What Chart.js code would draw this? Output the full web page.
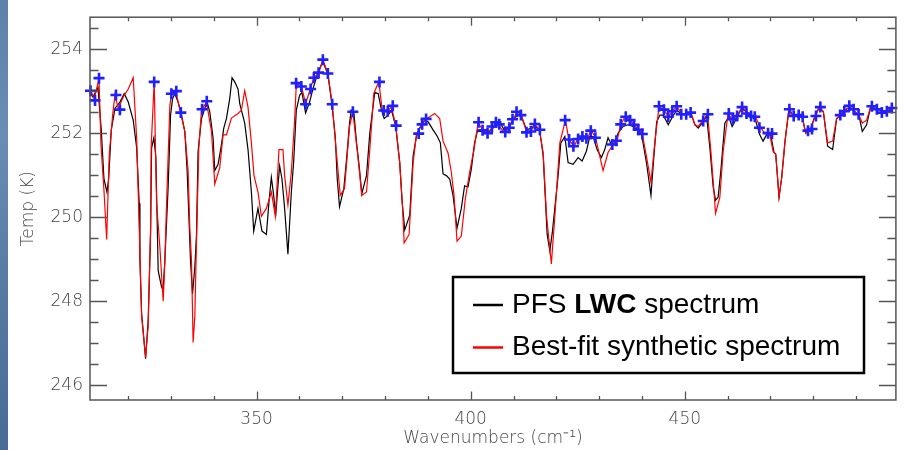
<!DOCTYPE html>
<html><head><meta charset="utf-8">
<script src="https://cdn.jsdelivr.net/npm/chart.js@4/dist/chart.umd.min.js"></script>
<style>
html,body{margin:0;padding:0;background:#fff;}
#wrap{position:relative;width:904px;height:450px;background:#fff;}
#stripe{position:absolute;left:0;top:0;width:8px;height:450px;background:linear-gradient(180deg,#5d81a9 0%,#6a8db4 30%,#587ca4 60%,#476b94 100%);}
canvas{position:absolute;left:0;top:0;}
</style></head><body>
<div id="wrap"><canvas id="c" width="904" height="450"></canvas><div id="stripe"></div></div>
<script>
// ---- data (wavenumber cm^-1, brightness temperature K) ----
const blackWn = [311.03,311.80,312.96,313.73,314.36,315.06,315.46,316.07,316.93,318.09,
319.10,320.03,321.19,321.99,322.59,322.76,323.15,324.08,324.69,325.25,
325.48,326.02,326.48,327.02,327.81,328.19,328.58,329.35,329.91,330.38,
330.91,331.68,332.48,333.24,333.78,334.25,334.57,335.04,335.58,335.97,
336.34,337.14,337.91,338.44,339.07,339.84,340.24,341.01,341.80,342.34,
342.97,343.73,344.27,344.90,345.67,346.07,347.23,348.00,348.79,349.33,
350.33,351.26,352.29,352.90,353.45,353.99,354.46,354.99,355.39,355.93,
356.55,357.32,358.12,358.65,359.28,360.05,360.59,361.45,362.38,363.15,
364.32,365.48,366.65,367.58,368.37,368.84,369.37,370.38,371.08,371.71,
372.10,372.71,373.27,374.04,374.57,375.67,376.44,377.60,378.40,379.17,
379.80,380.73,381.50,382.50,383.43,383.99,384.60,385.77,386.56,387.32,
388.09,389.26,390.05,391.22,392.22,392.92,393.55,394.32,395.09,395.88,
396.25,396.81,397.81,398.58,399.37,400.14,400.91,401.54,402.87,404.04,
405.20,405.97,407.14,408.00,409.17,409.94,411.10,411.87,413.04,414.20,
414.99,416.16,416.93,417.32,417.86,418.49,419.10,419.80,420.42,421.05,
421.99,422.75,423.92,425.08,426.02,427.02,427.81,428.58,429.52,430.52,
431.31,432.08,432.85,433.64,434.41,435.58,436.74,437.91,439.14,439.94,
441.10,442.10,442.64,443.43,444.20,444.97,446.14,446.93,448.10,449.26,
450.43,451.43,452.36,453.13,454.30,455.09,455.86,456.63,457.18,457.79,
458.42,459.35,460.28,461.05,462.08,463.24,464.41,465.58,466.51,467.51,
468.28,469.07,470.07,470.84,471.24,472.01,472.64,473.41,474.34,475.37,
476.53,477.46,478.23,479.40,480.40,481.42,482.36,483.36,484.53,485.46,
486.39,487.40,488.56,489.73,490.66,491.45,492.46,493.39,494.39,495.56,
496.72,497.65,498.68,499.68];
const blackT = [252.97,252.86,253.09,252.08,250.91,250.60,250.91,252.08,252.59,252.74,
252.94,252.74,252.31,251.66,250.33,248.97,247.72,246.63,247.56,249.63,
251.65,251.89,251.42,248.73,248.34,248.27,248.97,250.72,252.43,252.82,
252.94,252.74,252.43,252.04,251.11,249.86,248.97,248.18,248.81,249.59,
251.57,252.35,252.59,252.74,252.51,251.89,251.11,251.26,251.73,252.12,
252.35,252.82,253.32,253.22,253.05,252.70,252.24,251.61,250.60,249.67,
250.21,249.67,249.59,250.37,250.95,250.52,250.02,250.75,251.22,250.91,
250.21,249.12,250.60,251.30,252.55,252.90,252.97,252.48,252.74,253.05,
253.44,253.71,253.40,252.70,251.92,250.91,250.25,250.68,251.46,252.24,
252.55,252.51,251.85,251.14,250.56,250.99,252.00,252.97,252.94,252.55,
252.35,252.43,252.55,252.16,251.30,250.37,249.70,250.05,251.46,251.92,
252.12,252.31,252.27,252.08,251.92,251.77,251.03,250.99,250.91,250.52,
250.21,249.74,250.21,250.75,250.72,251.14,251.77,252.04,252.04,252.00,
252.12,252.20,252.20,252.04,252.16,252.35,252.43,252.39,252.08,252.12,
252.20,252.04,251.46,250.68,249.59,249.20,249.67,250.37,250.99,251.77,
251.92,251.30,251.26,251.42,251.34,251.57,251.92,251.92,251.61,251.42,
251.61,251.89,251.73,251.77,252.00,252.16,252.20,252.16,252.08,251.96,
251.26,250.52,251.26,252.27,252.43,252.43,252.20,252.35,252.55,252.45,
252.45,252.47,252.20,252.12,252.27,252.41,251.65,250.72,250.40,250.48,
251.11,252.24,252.39,252.16,252.35,252.59,252.51,252.39,252.31,251.96,
251.81,251.96,251.96,251.54,251.50,250.48,250.95,251.81,252.59,252.39,
252.45,252.37,252.00,252.10,252.41,252.62,252.51,251.69,251.61,252.35,
252.43,252.55,252.62,252.51,252.43,252.04,252.20,252.62,252.59,252.55,
252.47,252.55,252.60,252.60];

const redWn = [311.10,312.10,313.20,313.66,314.36,314.99,315.60,316.39,316.93,317.70,
318.86,320.03,321.19,321.99,322.59,323.15,324.08,324.69,325.25,325.39,
326.09,326.65,327.42,328.19,328.58,328.98,329.75,330.14,331.15,332.24,
333.24,334.01,334.41,334.81,335.18,335.58,335.97,336.51,337.14,338.30,
339.47,340.24,341.40,342.17,342.97,344.13,345.67,346.46,347.23,348.00,
348.79,349.40,350.33,351.12,352.29,353.45,354.39,355.23,356.16,356.55,
357.32,358.12,358.89,359.28,360.45,361.45,362.55,363.39,364.55,365.48,
366.65,367.67,368.37,369.54,370.54,371.71,372.48,373.64,374.57,375.67,
376.44,377.37,378.54,379.33,380.33,381.50,382.50,383.43,384.06,384.46,
385.62,386.56,387.32,388.49,389.42,390.42,391.59,392.76,393.55,394.71,
395.48,396.11,396.81,397.81,398.75,399.75,400.77,401.71,402.87,403.88,
404.97,405.97,406.44,408.00,408.93,409.94,410.94,411.87,413.04,413.97,
414.99,416.00,416.93,417.70,418.84,419.67,420.82,422.13,422.92,424.15,
424.92,426.25,427.25,428.05,429.12,430.91,432.08,433.24,434.24,435.04,
435.97,436.97,438.14,439.30,440.07,441.10,442.10,443.03,443.97,445.20,
446.14,447.07,448.10,449.26,450.43,451.43,452.36,453.13,454.15,455.32,
456.09,456.79,457.18,458.19,458.96,460.12,460.91,462.08,463.38,464.41,
465.41,466.51,467.51,468.67,469.84,470.61,471.24,472.01,472.64,473.41,
474.34,475.37,476.53,477.46,478.23,479.40,480.40,481.42,482.36,483.36,
484.53,485.46,486.39,487.40,488.56,489.73,490.66,491.45,492.46,493.39,
494.39,495.56,496.72,497.65,498.68,499.68];
const redT = [253.05,252.82,253.30,251.73,250.64,249.47,251.50,252.43,252.91,252.59,
252.86,253.05,253.32,251.89,249.78,247.64,246.67,247.41,249.74,251.69,
253.23,250.33,249.28,248.00,248.96,250.33,252.66,252.94,252.99,252.49,
252.04,251.11,249.74,248.96,247.02,247.64,249.43,251.65,252.55,252.74,
252.04,250.79,251.18,251.96,251.96,252.36,252.47,252.55,253.01,252.62,
251.77,250.99,250.60,250.02,250.21,250.60,250.02,251.61,251.61,250.99,
250.29,251.07,252.31,253.17,253.13,252.70,253.05,253.32,253.44,253.75,
253.42,252.70,251.85,250.52,250.68,252.16,252.51,251.46,250.52,250.60,
251.61,252.94,253.23,252.55,252.51,252.62,252.18,251.30,250.29,249.39,
249.59,251.30,251.96,252.20,252.33,252.39,252.47,252.35,251.81,251.53,
251.07,250.52,249.43,249.55,250.44,251.07,251.61,252.24,252.08,252.00,
252.12,252.25,252.20,252.00,252.14,252.33,252.51,252.41,252.03,252.04,
252.20,252.10,251.53,250.05,248.89,250.05,251.77,252.31,251.85,251.68,
251.85,251.94,251.85,252.08,251.91,251.11,251.54,251.73,251.85,252.20,
252.38,252.33,252.20,252.08,251.98,251.42,250.83,251.81,252.62,252.55,
252.39,252.51,252.65,252.45,252.45,252.49,252.20,252.16,252.29,252.45,
251.57,250.64,250.09,250.48,251.57,252.47,252.35,252.39,252.62,252.51,
252.43,252.39,252.16,252.00,251.98,251.57,251.50,250.48,250.95,251.81,
252.59,252.39,252.45,252.37,252.00,252.10,252.41,252.62,252.51,251.77,
251.81,252.35,252.43,252.55,252.62,252.51,252.43,252.24,252.31,252.62,
252.59,252.55,252.47,252.55,252.60,252.60];

const markWn = [311.22,312.27,313.20,317.16,318.09,326.09,330.10,331.26,332.31,337.28,
338.37,359.24,360.45,361.45,362.62,363.38,364.48,365.48,366.65,367.67,
372.48,378.70,379.70,380.63,381.80,382.59,387.86,388.66,389.59,401.85,
402.78,403.94,404.97,405.90,406.67,408.07,409.00,409.77,410.71,411.73,
413.04,414.06,414.99,416.16,422.06,422.99,423.99,425.09,426.09,427.02,
428.05,429.12,433.08,434.02,435.04,436.21,437.21,438.14,439.14,440.08,
443.97,445.13,446.14,447.07,448.10,449.17,450.33,451.36,454.30,455.40,
460.28,461.22,462.22,463.38,464.41,465.48,466.34,467.43,469.44,470.37,
474.43,475.43,476.60,477.53,478.77,479.70,480.64,481.66,486.32,487.25,
488.42,489.42,490.59,493.69,494.86,496.02,497.19,498.35];
const markT = [253.01,252.78,253.31,252.91,252.56,253.22,252.94,253.00,252.49,252.57,
252.76,253.19,253.11,252.69,253.05,253.32,253.44,253.75,253.42,252.69,
252.51,253.22,252.54,252.52,252.65,252.18,251.99,252.21,252.34,252.26,
252.07,252.00,252.16,252.26,252.21,252.03,252.13,252.33,252.51,252.43,
252.02,252.04,252.22,252.08,252.31,251.85,251.69,251.86,251.92,251.88,
252.06,251.89,251.73,251.82,252.21,252.39,252.31,252.20,252.08,251.98,
252.64,252.56,252.39,252.52,252.64,252.45,252.45,252.49,252.29,252.45,
252.47,252.33,252.41,252.62,252.47,252.41,252.39,252.13,252.00,251.99,
252.57,252.41,252.43,252.39,252.06,252.10,252.41,252.62,252.43,252.52,
252.65,252.57,252.45,252.64,252.57,252.49,252.52,252.60];

const xTicks = [350, 400, 450];
const yTicks = [246, 248, 250, 252, 254];
const xMinorStep = 10, yMinorStep = 0.5;
const seriesNames = ['PFS ', 'LWC', ' spectrum', 'Best-fit synthetic spectrum'];
const xTitle = 'Wavenumbers (cm\u207B\u00B9)';
const yTitle = 'Temp (K)';

const pts = (xs, ys) => xs.map((x, i) => ({x: x, y: ys[i]}));

const axisFont = {family: '"DejaVu Sans", sans-serif', size: 17, weight: '300'};
const axisColor = '#444';

const framePlugin = {
  id: 'framePlugin',
  afterDraw(chart) {
    const {ctx, chartArea: a, scales: {x, y}} = chart;
    ctx.save();
    ctx.strokeStyle = '#555';
    ctx.lineWidth = 1.5;
    ctx.strokeRect(a.left, a.top, a.right - a.left, a.bottom - a.top);
    ctx.lineWidth = 1.3;
    ctx.beginPath();
    for (let v = Math.ceil(x.min / xMinorStep) * xMinorStep; v <= x.max; v += xMinorStep) {
      const px = Math.round(x.getPixelForValue(v)) + 0.5;
      const L = xTicks.includes(v) ? 8.5 : 4;
      ctx.moveTo(px, a.bottom); ctx.lineTo(px, a.bottom - L);
      ctx.moveTo(px, a.top); ctx.lineTo(px, a.top + L);
    }
    for (let v = Math.ceil(y.min / yMinorStep) * yMinorStep; v <= y.max; v += yMinorStep) {
      const py = Math.round(y.getPixelForValue(v)) + 0.5;
      const L = yTicks.includes(v) ? 17 : 8.5;
      ctx.moveTo(a.left, py); ctx.lineTo(a.left + L, py);
      ctx.moveTo(a.right, py); ctx.lineTo(a.right - L, py);
    }
    ctx.stroke();

    // legend box
    const bx = 453, by = 277, bw = 411, bh = 96;
    ctx.fillStyle = '#fff';
    ctx.fillRect(bx, by, bw, bh);
    ctx.strokeStyle = '#000';
    ctx.lineWidth = 2.5;
    ctx.strokeRect(bx, by, bw, bh);
    ctx.lineWidth = 2.5;
    ctx.beginPath(); ctx.strokeStyle = '#000'; ctx.moveTo(473, 305); ctx.lineTo(503, 305); ctx.stroke();
    ctx.beginPath(); ctx.strokeStyle = '#ff0000'; ctx.moveTo(473, 347.5); ctx.lineTo(503, 347.5); ctx.stroke();
    ctx.fillStyle = '#000';
    ctx.textBaseline = 'alphabetic';
    ctx.textAlign = 'left';
    let tx = 512;
    ctx.font = '28px "Liberation Sans", Arial, sans-serif';
    ctx.fillText(seriesNames[0], tx, 313); tx += ctx.measureText(seriesNames[0]).width;
    ctx.font = 'bold 28px "Liberation Sans", Arial, sans-serif';
    ctx.fillText(seriesNames[1], tx, 313); tx += ctx.measureText(seriesNames[1]).width;
    ctx.font = '28px "Liberation Sans", Arial, sans-serif';
    ctx.fillText(seriesNames[2], tx, 313);
    ctx.fillText(seriesNames[3], 512, 355);
    ctx.restore();
  }
};

new Chart(document.getElementById('c'), {
  type: 'line',
  data: {
    datasets: [
      {label: 'marks', data: pts(markWn, markT), showLine: false, pointStyle: 'cross',
       pointRadius: 5.5, pointBorderWidth: 2.6, pointBorderColor: '#1f1fff', pointBackgroundColor: '#1f1fff',
       borderColor: '#1f1fff', order: 0, clip: false},
      {label: 'Best-fit synthetic spectrum', data: pts(redWn, redT), borderColor: '#ff0000', borderWidth: 1.2,
       pointRadius: 0, tension: 0, fill: false, order: 1},
      {label: 'PFS LWC spectrum', data: pts(blackWn, blackT), borderColor: '#000000', borderWidth: 1.2,
       pointRadius: 0, tension: 0, fill: false, order: 2}
    ]
  },
  options: {
    responsive: false, animation: false, devicePixelRatio: 1,
    layout: {padding: {left: 0, right: 6, top: 10, bottom: 0}},
    plugins: {legend: {display: false}, tooltip: {enabled: false}},
    scales: {
      x: {
        type: 'linear', position: 'bottom', min: 311.1, max: 499.3,
        afterBuildTicks: s => { s.ticks = xTicks.map(v => ({value: v})); },
        afterFit: s => { s.height = 50; },
        grid: {display: false, drawTicks: false}, border: {display: false},
        ticks: {font: axisFont, color: axisColor, padding: 9, maxRotation: 0, autoSkip: false,
                callback: v => String(v)},
        title: {display: true, text: xTitle, font: axisFont, color: axisColor, padding: {top: 0, bottom: 1}}
      },
      y: {
        type: 'linear', position: 'left', min: 245.65, max: 254.76,
        afterBuildTicks: s => { s.ticks = yTicks.map(v => ({value: v})); },
        afterFit: s => { s.width = 90; },
        grid: {display: false, drawTicks: false}, border: {display: false},
        ticks: {font: axisFont, color: axisColor, padding: 7, autoSkip: false, callback: v => String(v)},
        title: {display: true, text: yTitle, font: axisFont, color: axisColor, padding: {top: 18, bottom: 0}}
      }
    }
  },
  plugins: [framePlugin]
});
</script>
</body></html>
